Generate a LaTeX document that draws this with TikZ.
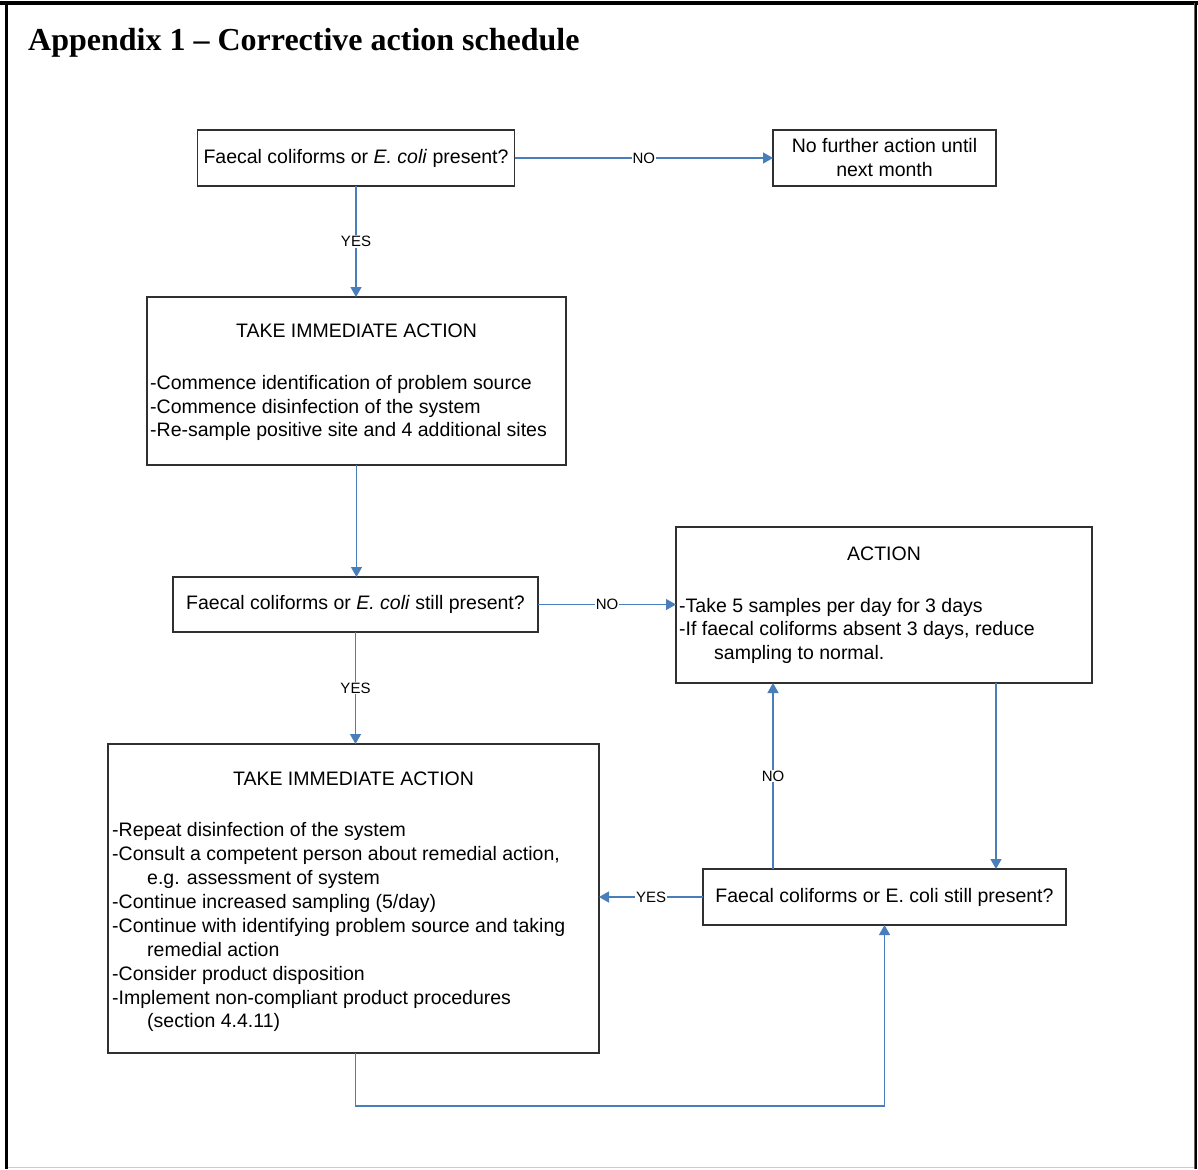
\documentclass[tikz,border=0pt]{standalone}
\usepackage{fontspec}
\setmainfont{Liberation Sans}
\newfontfamily\titlefont{Liberation Serif}
\usetikzlibrary{arrows.meta,calc}
\definecolor{conncol}{HTML}{4A7EBB}
\definecolor{boxcol}{HTML}{303030}
\begin{document}
\begin{tikzpicture}[x=1pt,y=-1pt,
  box/.style={draw=boxcol,line width=1.3pt,inner sep=0pt,outer sep=0pt},
  txt/.style={inner sep=0pt,font=\fontsize{19.5}{24}\selectfont},
  ln/.style={inner sep=0pt,anchor=base west,font=\fontsize{19.5}{24}\selectfont},
  hd/.style={inner sep=0pt,anchor=base,font=\fontsize{19.5}{24}\selectfont},
  conn/.style={draw=conncol,line width=1.3pt,-{Triangle[length=10pt,width=11pt]}},
  lbl/.style={fill=white,inner sep=1pt,font=\fontsize{15}{18}\selectfont}]
\useasboundingbox (0,0) rectangle (1198,1169);
% outer frame
\fill[black] (0,1) rectangle (1198,5);
\fill[black] (5,1) rectangle (8,1169);
\fill[black!60] (1194,3) rectangle (1195,1169);
\fill[black] (1195,3) rectangle (1197,1169);
\draw[black!20,line width=1.5pt] (8,1167.5) -- (1194,1167.5);
% title
\node[inner sep=0pt,anchor=base west,font=\titlefont\bfseries\fontsize{32}{38}\selectfont] (title) at (28,51) {Appendix 1 \textendash{} Corrective action schedule};
% boxes
\node[box,minimum width=317pt,minimum height=56pt] (b1) at (356,158) {};
\node[txt] (t1) at (b1.center) {Faecal coliforms or \textit{E. coli} present?};
\node[box,minimum width=223pt,minimum height=56pt] (b2) at (884.5,158) {};
\node[txt,align=center] (t2) at (b2.center) {No further action until\\next month};
\node[box,minimum width=419pt,minimum height=168pt] (b3) at (356.5,381) {};
\node[hd] (t3h) at (356.5,337) {TAKE IMMEDIATE ACTION};
\node[ln] (t3a) at (150,389) {-Commence identification of problem source};
\node[ln] (t3b) at (150,413) {-Commence disinfection of the system};
\node[ln] (t3c) at (150,436) {-Re-sample positive site and 4 additional sites};
\node[box,minimum width=365pt,minimum height=55pt] (b4) at (355.5,604.5) {};
\node[txt] (t4) at (b4.center) {Faecal coliforms or \textit{E. coli} still present?};
\node[box,minimum width=416pt,minimum height=156pt] (b5) at (884,605) {};
\node[hd] (t5h) at (884,560) {ACTION};
\node[ln] (t5a) at (679,612) {-Take 5 samples per day for 3 days};
\node[ln] (t5b) at (679,635) {-If faecal coliforms absent 3 days, reduce};
\node[ln] (t5c) at (714,659) {sampling to normal.};
\node[box,minimum width=363pt,minimum height=56pt] (b6) at (884.5,897) {};
\node[txt] (t6) at (b6.center) {Faecal coliforms or E. coli still present?};
\node[box,minimum width=491pt,minimum height=309pt] (b7) at (353.5,898.5) {};
\node[hd] (t7h) at (353.5,785) {TAKE IMMEDIATE ACTION};
\node[ln] (t7a) at (112,836) {-Repeat disinfection of the system};
\node[ln] (t7b) at (112,860) {-Consult a competent person about remedial action,};
\node[ln] (t7c) at (147,884) {e.g. assessment of system};
\node[ln] (t7d) at (112,908) {-Continue increased sampling (5/day)};
\node[ln] (t7e) at (112,932) {-Continue with identifying problem source and taking};
\node[ln] (t7f) at (147,956) {remedial action};
\node[ln] (t7g) at (112,980) {-Consider product disposition};
\node[ln] (t7h2) at (112,1004) {-Implement non-compliant product procedures};
\node[ln] (t7i) at (147,1027) {(section 4.4.11)};
% connectors
\draw[conn] (b1.east) -- node[lbl] (l1) {NO} (b2.west);
\draw[conn] (b1.south) -- node[lbl] (l2) {YES} (b1.south |- b3.north);
\draw[conn] (b3.south) -- (b3.south |- b4.north);
\draw[conn] (b4.east) -- node[lbl] (l3) {NO} (b4.east -| b5.west);
\draw[conn] (b4.south) -- node[lbl] (l4) {YES} (b4.south |- b7.north);
\draw[conn] ([xshift=111.5pt]b6.north |- b5.south) -- ([xshift=111.5pt]b6.north);
\draw[conn] ([xshift=-111.5pt]b6.north) -- node[lbl] (l5) {NO} ([xshift=-111.5pt]b6.north |- b5.south);
\draw[conn] (b6.west) -- node[lbl] (l6) {YES} (b6.west -| b7.east);
\coordinate (lp) at ($(b7.south -| b4.south)+(0,53)$);
\draw[conn] (b7.south -| b4.south) -- (lp) -| (b6.south);
\end{tikzpicture}
\end{document}
